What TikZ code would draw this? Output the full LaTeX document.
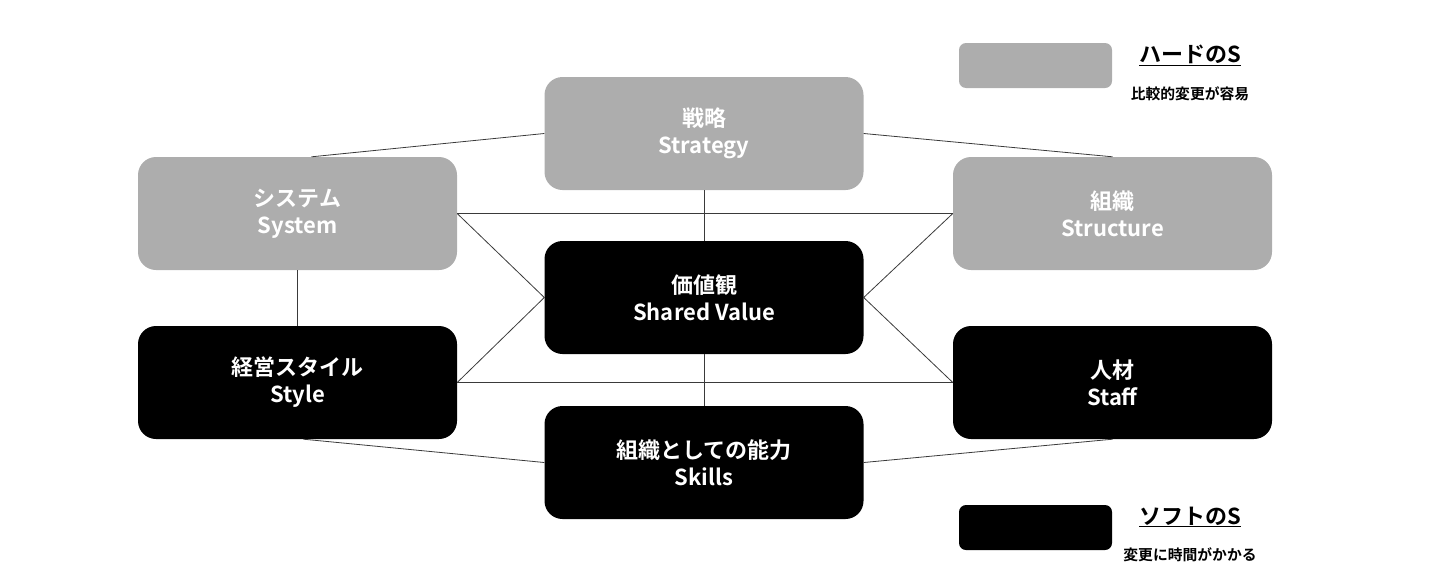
\documentclass[tikz,border=0pt]{standalone}
\usepackage{fontspec}
\setmainfont{Noto Sans CJK JP}[BoldFont={Noto Sans CJK JP Bold}]
\definecolor{hardgray}{HTML}{ADADAD}
\definecolor{linegray}{HTML}{3A3A3A}
\tikzset{
  sbox/.style={rounded corners=18pt, minimum width=319pt, minimum height=113pt,
    inner sep=0pt, align=center, text=white, font=\bfseries\fontsize{22}{27}\selectfont},
  hard/.style={sbox, fill=hardgray},
  soft/.style={sbox, fill=black},
  legbox/.style={rounded corners=7pt, minimum width=153pt, minimum height=45pt, inner sep=0pt},
  legtitle/.style={font=\bfseries\fontsize{22}{24}\selectfont, inner sep=0pt},
  legsub/.style={font=\bfseries\fontsize{14.8}{16}\selectfont, inner sep=0pt},
  conn/.style={draw=linegray, line width=0.8pt}
}
\begin{document}
\begin{tikzpicture}[x=1pt,y=-1pt]
\useasboundingbox (0,0) rectangle (1440,581);
\node[hard] (strat) at (704,133.5) {戦略\\Strategy};
\node[hard] (sys) at (297.5,213.5) {システム\\System};
\node[hard] (struc) at (1112.5,213.5) {組織\\Structure};
\node[soft] (sv) at (704,297.5) {価値観\\Shared Value};
\node[soft] (sty) at (297.5,382.5) {経営スタイル\\Style};
\node[soft] (staff) at (1112.5,382.5) {人材\\Staff};
\node[soft] (skl) at (704,462.5) {組織としての能力\\Skills};
% legend
\node[legbox, fill=hardgray] (lh) at (1035.5,65.5) {};
\node[legtitle] (lht) at (1190,55) {\underline{ハードのS}};
\node[legsub] (lhs) at (1190,94) {比較的変更が容易};
\node[legbox, fill=black] (ls) at (1035.5,527.5) {};
\node[legtitle] (lst) at (1190,517) {\underline{ソフトのS}};
\node[legsub] (lss) at (1190,555) {変更に時間がかかる};
% connectors
\draw[conn] (strat.west) -- ([xshift=14pt]sys.north);
\draw[conn] (strat.east) -- (struc.north);
\draw[conn] (strat.south) -- (sv.north);
\draw[conn] (sv.south) -- (skl.north);
\draw[conn] (sys.south) -- (sty.north);
\draw[conn] (sys.east) -- (struc.west);
\draw[conn] (sty.east) -- (staff.west);
\draw[conn] (sys.east) -- (sv.west) -- (sty.east);
\draw[conn] (struc.west) -- (sv.east) -- (staff.west);
\draw[conn] ([xshift=6pt]sty.south) -- (skl.west);
\draw[conn] (skl.east) -- (staff.south);
\end{tikzpicture}
\end{document}
